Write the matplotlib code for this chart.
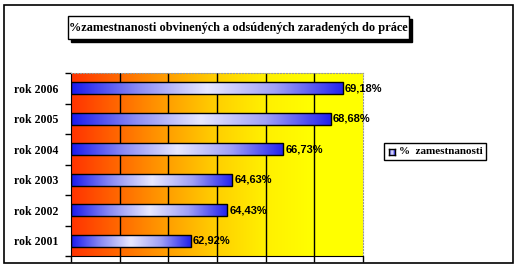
import numpy as np
import matplotlib
matplotlib.use("Agg")
import matplotlib.pyplot as plt
from matplotlib.colors import LinearSegmentedColormap
from matplotlib.patches import Rectangle

# data
years = ["rok 2001", "rok 2002", "rok 2003", "rok 2004", "rok 2005", "rok 2006"]
values = [62.92, 64.43, 64.63, 66.73, 68.68, 69.18]
labels = ["62,92%", "64,43%", "64,63%", "66,73%", "68,68%", "69,18%"]
title = "%zamestnanosti obvinených a odsúdených zaradených do práce"
legend_label = "%  zamestnanosti"

W, H = 519, 269
fig = plt.figure(figsize=(W / 100, H / 100), dpi=100)
fig.patch.set_facecolor("white")

def fx(px):
    return px / W

def fy(py):
    return 1 - py / H

# outer frame
fig.add_artist(Rectangle((fx(4), fy(263)), fx(509), (263 - 5) / H, transform=fig.transFigure,
                         fill=False, edgecolor="black", lw=1.2))

ax = fig.add_axes([fx(71), fy(256), fx(292), 183 / H])
xmin, xmax = 58, 70
n = len(values)
ax.set_xlim(xmin, xmax)
ax.set_ylim(-0.5, n - 0.5)

bg_cmap = LinearSegmentedColormap.from_list(
    "bg", ["#ff3300", "#ff6a00", "#ffa000", "#ffd000", "#fff000", "#ffff00", "#ffff00"])
grad = np.linspace(0, 1, 256).reshape(1, -1)
ax.imshow(grad, cmap=bg_cmap, aspect="auto", extent=[xmin, xmax, -0.5, n - 0.5],
          zorder=0, interpolation="bilinear")

for x in np.arange(xmin + 2, xmax, 2):
    ax.axvline(x, color="black", lw=1, zorder=1)

bar_cmap = LinearSegmentedColormap.from_list(
    "bar", ["#1a1aee", "#8c8cf4", "#e8e8ff", "#a0a0f6", "#2222ee"])
bars = ax.barh(range(n), [v - xmin for v in values], left=xmin, height=0.4,
               facecolor="none", edgecolor="black", lw=1, zorder=3)
for i, b in enumerate(bars):
    im = ax.imshow(grad, cmap=bar_cmap, aspect="auto",
                   extent=[xmin, values[i], i - 0.2, i + 0.2], zorder=2,
                   interpolation="bilinear")
    im.set_clip_path(b)
    ax.text(values[i] + 0.08, i, labels[i], va="center", ha="left",
            fontsize=8, fontweight="bold", family="Liberation Sans", zorder=4)

ax.set_xticks(np.arange(xmin, xmax + 0.1, 2))
ax.set_xticklabels([])
ax.set_yticks(np.arange(-0.5, n, 1), minor=False)
ax.set_yticklabels([])
ax.set_yticks(range(n), minor=True)
ax.set_yticklabels(years, minor=True, fontsize=8.5, fontweight="bold", family="Liberation Serif")
ax.tick_params(axis="y", which="minor", length=0, pad=9)
ax.tick_params(axis="both", which="major", length=4, width=1, color="black")
for s in ["top", "right"]:
    ax.spines[s].set_color("#999999")
    ax.spines[s].set_linestyle(":")
for s in ["left", "bottom"]:
    ax.spines[s].set_color("black")

# title box with shadow
fig.add_artist(Rectangle((fx(71), fy(42)), fx(341), 23 / H, transform=fig.transFigure,
                         facecolor="black", edgecolor="black"))
fig.add_artist(Rectangle((fx(68), fy(39)), fx(341), 23 / H, transform=fig.transFigure,
                         facecolor="white", edgecolor="black", lw=1))
fig.text(fx(238.5), fy(28), title, ha="center", va="center", fontsize=8.9,
         fontweight="bold", family="Liberation Serif")

# legend
fig.add_artist(Rectangle((fx(384), fy(160)), fx(102), 17 / H, transform=fig.transFigure,
                         facecolor="white", edgecolor="black", lw=1))
lg = fig.add_axes([fx(389), fy(155), fx(6), 6 / H])
lg.set_zorder(5)
lg.imshow(grad, cmap=bar_cmap, aspect="auto", extent=[0, 1, 0, 1])
lg.set_xticks([])
lg.set_yticks([])
for s in lg.spines.values():
    s.set_linewidth(1)
fig.text(fx(399), fy(151.5), legend_label, ha="left", va="center", fontsize=8,
         fontweight="bold", family="Liberation Serif")

fig.savefig("out.png", dpi=100)
